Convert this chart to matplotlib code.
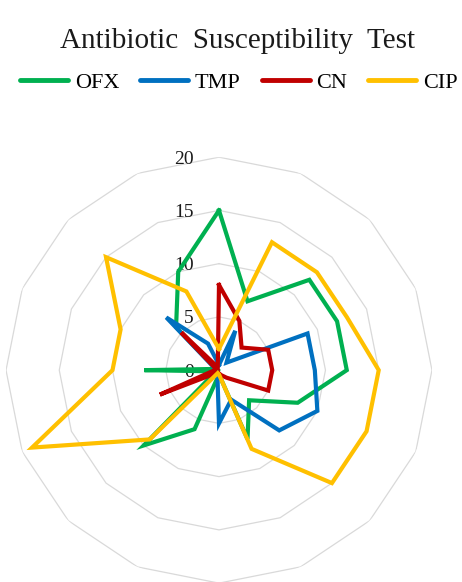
import numpy as np
import matplotlib
matplotlib.use("Agg")
import matplotlib.pyplot as plt
import matplotlib.transforms as mtransforms
from matplotlib.lines import Line2D

plt.rcParams['font.family'] = ['Liberation Serif', 'DejaVu Serif']

# 16 isolates, read clockwise from the top spoke
n_isolates = 16
ofx = [15, 7, 12, 12, 12, 8, 4, 7, 0.4, 6, 10, 0.3, 7, 0.3, 5.7, 10]
tmp = [0.5, 4, 1, 9, 9, 10, 8, 3, 5, 0.4, 0.3, 0.3, 0.3, 0.4, 7, 2.7]
cn = [8, 5, 3, 5, 5, 5, 1, 0.5, 0.3, 0.3, 0.4, 6, 0.4, 0.3, 5, 0.3]
cip = [2, 13, 13, 13, 15, 15, 15, 8, 0.4, 0.3, 9.2, 19, 10, 10, 15, 8]

series_names = ['OFX', 'TMP', 'CN', 'CIP']
series_colors = ['#00b050', '#0070c0', '#c00000', '#ffc000']
ring_levels = [5, 10, 15, 20]
tick_levels = [0, 5, 10, 15, 20]

fig = plt.figure(figsize=(4.62, 5.82), dpi=100)
ax = fig.add_axes([0.013, -0.002, 0.922, 0.732], polar=True)
ax.set_theta_zero_location('N')
ax.set_theta_direction(-1)

theta = np.linspace(0, 2 * np.pi, n_isolates, endpoint=False)
theta_closed = np.append(theta, theta[0])

# polygon grid rings
for lvl in ring_levels:
    ax.plot(theta_closed, [lvl] * (n_isolates + 1), color='#d9d9d9', lw=0.9, zorder=1)

for vals, col in zip([ofx, tmp, cn, cip], series_colors):
    v = np.append(vals, vals[0])
    ax.plot(theta_closed, v, color=col, lw=3, zorder=3, solid_joinstyle='miter')

ax.set_ylim(0, 20)
ax.set_xticks([])
ax.set_yticks([])
ax.grid(False)
ax.spines['polar'].set_visible(False)

# radial value labels, left of the top spoke (drawn under the lines)
lbl_trans = mtransforms.offset_copy(ax.transData, fig=fig, x=-25, y=-2, units='dots')
for t in tick_levels:
    ax.text(0, t, str(t), transform=lbl_trans, ha='right', va='center',
            fontsize=14, color='#1a1a1a', zorder=2)

fig.text(0.514, 0.93, 'Antibiotic  Susceptibility  Test', ha='center', va='center',
         fontsize=21, color='#1a1a1a')

handles = [Line2D([0], [0], color=c, lw=3.5, solid_capstyle='round') for c in series_colors]
fig.legend(handles, series_names, loc='center', bbox_to_anchor=(0.517, 0.858), ncol=4,
           frameon=False, fontsize=16, handlelength=2.15, handletextpad=0.3,
           columnspacing=0.95, borderaxespad=0)

fig.savefig('out.png', dpi=100)
